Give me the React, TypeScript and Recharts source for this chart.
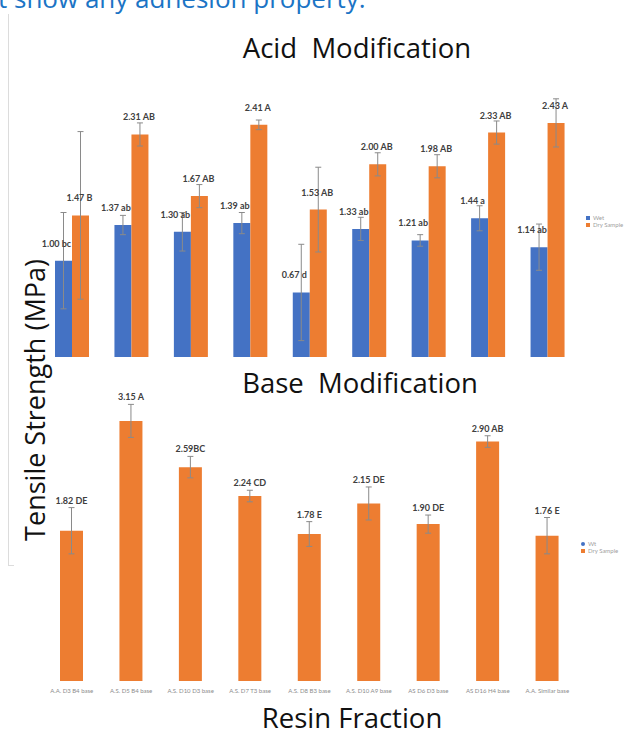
import { BarChart, Bar, XAxis, YAxis, ErrorBar, LabelList } from "recharts"

// resin fractions, same order in both panels
const fractions = [
  "A.A. D3 B4 base",
  "A.S. D5 B4 base",
  "A.S. D10 D3 base",
  "A.S. D7 T3 base",
  "A.S. D8 B3 base",
  "A.S. D10 A9 base",
  "AS D6 D3 base",
  "AS D16 H4 base",
  "A.A. Similar base",
]

// acid modification, wet vs dry (MPa)
const wetValues = [1.0, 1.37, 1.3, 1.39, 0.67, 1.33, 1.21, 1.44, 1.14]
const wetErrors = [0.5, 0.1, 0.2, 0.11, 0.5, 0.12, 0.06, 0.13, 0.24]
const wetGroups = ["bc", "ab", "ab", "ab", "d", "ab", "ab", "a", "ab"]

const dryValues = [1.47, 2.31, 1.67, 2.41, 1.53, 2.0, 1.98, 2.33, 2.43]
const dryErrors = [0.87, 0.12, 0.12, 0.05, 0.44, 0.12, 0.12, 0.12, 0.25]
const dryGroups = ["B", "AB", "AB", "A", "AB", "AB", "AB", "AB", "A"]

// base modification, dry only (MPa)
const baseValues = [1.82, 3.15, 2.59, 2.24, 1.78, 2.15, 1.9, 2.9, 1.76]
const baseErrors = [0.28, 0.2, 0.13, 0.07, 0.15, 0.2, 0.11, 0.07, 0.22]
const baseGroups = [" DE", " A", "BC", " CD", " E", " DE", " DE", " AB", " E"]

const acidTicks = [0, 0.5, 1, 1.5, 2, 2.5, 3]
const baseTicks = [0, 0.5, 1, 1.5, 2, 2.5, 3, 3.5]

const acidData = fractions.map((name, i) => ({
  name,
  wet: wetValues[i],
  wetErr: wetErrors[i],
  dry: dryValues[i],
  dryErr: dryErrors[i],
}))

const baseData = fractions.map((name, i) => ({
  name,
  dry: baseValues[i],
  dryErr: baseErrors[i],
}))

const BLUE = "#4472C4"
const ORANGE = "#ED7D31"
const LABEL_FONT = "Lato, 'Open Sans', sans-serif"
const TITLE_FONT = "'Open Sans', sans-serif"

// acid labels sit a fixed distance above the bar top
function acidLabel(groups: string[], dx: number) {
  return (props: any) => {
    const { x, y, width, value, index } = props
    return (
      <text
        x={Number(x) + Number(width) / 2 + dx}
        y={Number(y) - 14}
        textAnchor="middle"
        fontSize={9}
        fontWeight={700}
        fill="#404040"
        fontFamily={LABEL_FONT}
      >
        {`${Number(value).toFixed(2)} ${groups[index]}`}
      </text>
    )
  }
}

// base labels sit just above the error bar cap
function baseLabel(props: any) {
  const { x, y, width, height, value, index } = props
  const perUnit = Number(height) / Number(value)
  const capTop = Number(y) - baseErrors[index] * perUnit
  return (
    <text
      x={Number(x) + Number(width) / 2}
      y={capTop - 4}
      textAnchor="middle"
      fontSize={9}
      fontWeight={700}
      fill="#404040"
      fontFamily={LABEL_FONT}
    >
      {`${Number(value).toFixed(2)}${baseGroups[index]}`}
    </text>
  )
}

function LegendItem({ color, label, round }: { color: string; label: string; round?: boolean }) {
  return (
    <div style={{ display: "flex", alignItems: "center", height: 7 }}>
      <span
        style={{
          width: 4,
          height: 4,
          background: color,
          borderRadius: round ? 2 : 0,
          marginRight: 3,
        }}
      />
      <span style={{ fontSize: 6, color: "#a0a0a0", fontFamily: LABEL_FONT }}>{label}</span>
    </div>
  )
}

const abs = (left: number, top: number): React.CSSProperties => ({ position: "absolute", left, top })

const titleStyle: React.CSSProperties = {
  width: 300,
  textAlign: "center",
  fontSize: 27.5,
  lineHeight: "27px",
  whiteSpace: "pre",
  color: "#111",
}

export default function App() {
  return (
    <div
      style={{
        position: "absolute",
        left: 0,
        top: 0,
        width: 629,
        height: 738,
        background: "#fff",
        overflow: "hidden",
        fontFamily: TITLE_FONT,
      }}
    >
      <div
        style={{
          ...abs(-2, -15),
          fontSize: 26,
          lineHeight: "26px",
          color: "#1B74C5",
          whiteSpace: "nowrap",
        }}
      >
        t show any adhesion property.
      </div>

      {/* text box edge on the left */}
      <div style={{ ...abs(8, 14), width: 1, height: 552, background: "#dcdcdc" }} />
      <div style={{ ...abs(8, 565), width: 6, height: 1, background: "#dcdcdc" }} />

      <div style={{ ...abs(0, 0) }}>
        <BarChart
          width={629}
          height={360}
          data={acidData}
          margin={{ top: 68, right: 52, left: 42, bottom: 3 }}
          barGap={0}
        >
          <XAxis dataKey="name" hide />
          <YAxis hide domain={[0, 3]} ticks={acidTicks} />
          <Bar dataKey="wet" fill={BLUE} barSize={17} isAnimationActive={false}>
            <ErrorBar dataKey="wetErr" width={3} stroke="#8a8a8a" strokeWidth={1} isAnimationActive={false} />
            <LabelList dataKey="wet" content={acidLabel(wetGroups, -7)} />
          </Bar>
          <Bar dataKey="dry" fill={ORANGE} barSize={17} isAnimationActive={false}>
            <ErrorBar dataKey="dryErr" width={3} stroke="#8a8a8a" strokeWidth={1} isAnimationActive={false} />
            <LabelList dataKey="dry" content={acidLabel(dryGroups, -1)} />
          </Bar>
        </BarChart>
      </div>

      <div style={{ ...abs(0, 360) }}>
        <BarChart
          width={629}
          height={378}
          data={baseData}
          margin={{ top: 32, right: 52, left: 42, bottom: 37 }}
        >
          <XAxis
            dataKey="name"
            height={20}
            interval={0}
            tickLine={false}
            axisLine={false}
            tickMargin={2}
            tick={{ fontSize: 6, fill: "#8c8c8c", fontFamily: LABEL_FONT }}
          />
          <YAxis hide domain={[0, 3.5]} ticks={baseTicks} />
          <Bar dataKey="dry" fill={ORANGE} barSize={23} isAnimationActive={false}>
            <ErrorBar dataKey="dryErr" width={3} stroke="#8a8a8a" strokeWidth={1} isAnimationActive={false} />
            <LabelList dataKey="dry" content={baseLabel} />
          </Bar>
        </BarChart>
      </div>

      <div style={{ ...abs(207, 34), ...titleStyle }}>{"Acid  Modification"}</div>
      <div style={{ ...abs(210, 369), ...titleStyle }}>{"Base  Modification"}</div>
      <div style={{ ...abs(202, 704), ...titleStyle }}>Resin Fraction</div>
      <div
        style={{
          ...abs(-165, 385),
          width: 400,
          height: 30,
          lineHeight: "30px",
          textAlign: "center",
          fontSize: 27,
          color: "#111",
          transform: "rotate(-90deg)",
        }}
      >
        Tensile Strength (MPa)
      </div>

      <div style={{ ...abs(586, 214) }}>
        <LegendItem color={BLUE} label="Wet" />
        <LegendItem color={ORANGE} label="Dry Sample" />
      </div>
      <div style={{ ...abs(581, 540) }}>
        <LegendItem color={BLUE} label="Wt" round />
        <LegendItem color={ORANGE} label="Dry Sample" />
      </div>
    </div>
  )
}
